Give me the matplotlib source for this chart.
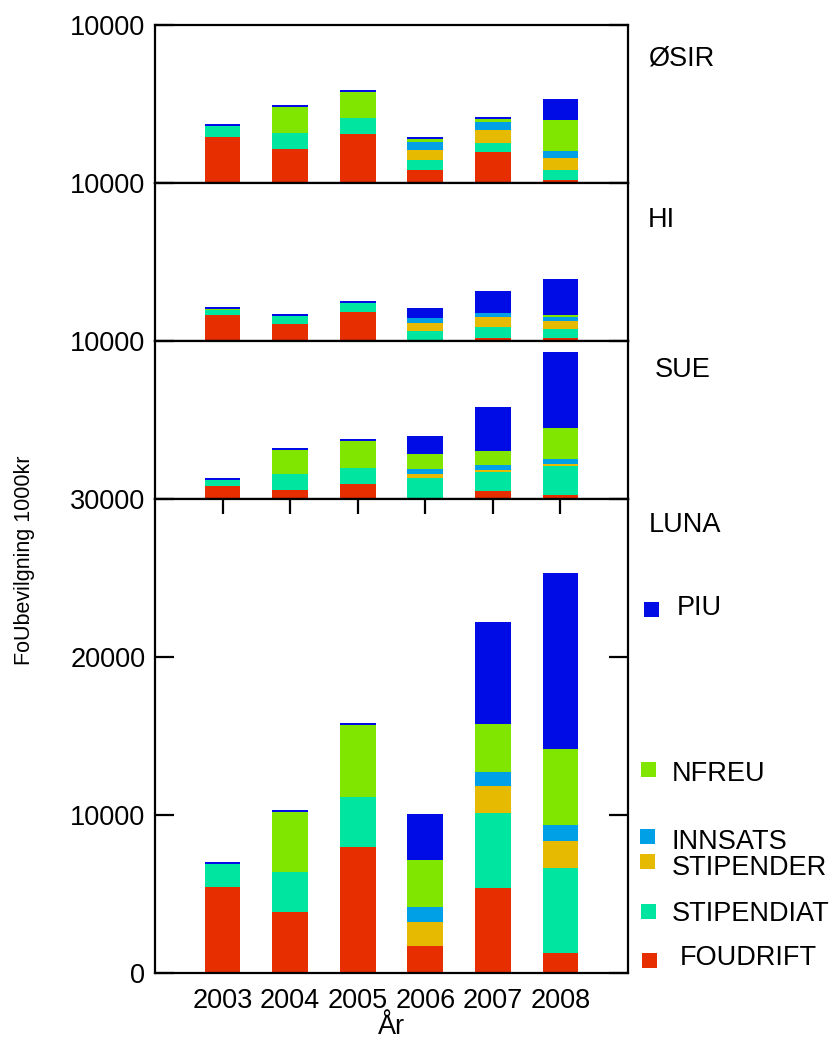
import matplotlib
matplotlib.use("Agg")
import matplotlib.pyplot as plt
from matplotlib.patches import Rectangle
import numpy as np

plt.rcParams['font.family'] = ['Liberation Sans', 'DejaVu Sans']

years = ['2003', '2004', '2005', '2006', '2007', '2008']
series = ['FOUDRIFT', 'STIPENDIAT', 'STIPENDER', 'INNSATS', 'NFREU', 'PIU']
colors = ['#E62E00', '#00E6A0', '#E6BA00', '#00A0E6', '#80E600', '#000CE6']
panels = ['ØSIR', 'HI', 'SUE', 'LUNA']

osir_foudrift = [2911, 2152, 3080, 848, 1962, 215]
osir_stipendiat = [696, 992, 1055, 633, 595, 608]
osir_stipender = [0, 0, 0, 633, 797, 785]
osir_innsats = [0, 0, 0, 481, 487, 443]
osir_nfreu = [0, 1688, 1646, 215, 209, 1962]
osir_piu = [127, 127, 127, 127, 108, 1285]

hi_foudrift = [1646, 1100, 1835, 0, 190, 215]
hi_stipendiat = [320, 481, 570, 658, 696, 527]
hi_stipender = [0, 0, 0, 506, 612, 506]
hi_innsats = [0, 0, 0, 274, 253, 274]
hi_nfreu = [80, 0, 0, 0, 0, 105]
hi_piu = [100, 105, 127, 633, 1392, 2300]

sue_foudrift = [844, 570, 928, 63, 506, 274]
sue_stipendiat = [342, 1013, 1055, 1266, 1181, 1793]
sue_stipender = [0, 0, 0, 274, 148, 127]
sue_innsats = [0, 0, 0, 295, 316, 316]
sue_nfreu = [0, 1498, 1709, 928, 907, 1962]
sue_piu = [146, 127, 127, 1139, 2743, 4848]

luna_foudrift = [5418, 3835, 7975, 1684, 5399, 1266]
luna_stipendiat = [1456, 2532, 3139, 0, 4728, 5354]
luna_stipender = [0, 0, 0, 1519, 1684, 1753]
luna_innsats = [0, 0, 0, 949, 930, 994]
luna_nfreu = [0, 3797, 4557, 3019, 2994, 4829]
luna_piu = [150, 127, 127, 2867, 6456, 11139]

panel_data = [
    [osir_foudrift, osir_stipendiat, osir_stipender, osir_innsats, osir_nfreu, osir_piu],
    [hi_foudrift, hi_stipendiat, hi_stipender, hi_innsats, hi_nfreu, hi_piu],
    [sue_foudrift, sue_stipendiat, sue_stipender, sue_innsats, sue_nfreu, sue_piu],
    [luna_foudrift, luna_stipendiat, luna_stipender, luna_innsats, luna_nfreu, luna_piu],
]

W, H = 839, 1043
fig = plt.figure(figsize=(W / 100, H / 100), dpi=100)

left_px, right_px = 155, 628
bounds_px = [(25, 183), (183, 341), (341, 499), (499, 973)]
ylims = [10000, 10000, 10000, 30000]
fs = 19.5
lw = 1.6

x = np.arange(len(years))
axes = []
for i, ((t, b), ymax) in enumerate(zip(bounds_px, ylims)):
    ax = fig.add_axes([left_px / W, 1 - b / H, (right_px - left_px) / W, (b - t) / H])
    bottom = np.zeros(len(years))
    for vals, col in zip(panel_data[i], colors):
        v = np.array(vals, dtype=float)
        ax.bar(x, v, width=0.53, bottom=bottom, color=col, linewidth=0)
        bottom += v
    ax.set_xlim(-1, 6)
    ax.set_ylim(0, ymax)
    for s in ax.spines.values():
        s.set_linewidth(lw)
    if i < 3:
        ax.set_yticks([10000])
        ax.set_yticklabels(['10000'])
        ax.set_xticks([])
    else:
        ax.set_yticks([0, 10000, 20000, 30000])
        ax.set_yticklabels(['0', '10000', '20000', '30000'])
        ax.set_xticks(x)
        ax.set_xticklabels(years)
        ax.tick_params(axis='x', which='both', top=True, bottom=False,
                       direction='in', length=11, width=lw, labelsize=fs, pad=11)
        ax.set_xlabel('År', fontsize=fs, labelpad=0)
    ax.tick_params(axis='y', which='both', left=True, right=True, direction='in',
                   length=14, width=lw, labelsize=fs, pad=7)
    axes.append(ax)

# panel labels
label_pos = [(648, 58), (648, 220), (655, 370), (649, 525)]
for name, (px, py) in zip(panels, label_pos):
    fig.text(px / W, 1 - py / H, name, fontsize=fs, ha='left', va='center')

# y label
fig.text(25 / W, 1 - 560 / H, 'FoUbevilgning 1000kr', rotation=90, ha='center', va='center',
         fontsize=15.5)

# legend (manually placed, as in original)
leg_pos = {
    'PIU': (644, 602, 677, 608),
    'NFREU': (641, 762, 672, 774),
    'INNSATS': (640, 829, 672, 842),
    'STIPENDER': (640, 854, 672, 868),
    'STIPENDIAT': (641, 904, 672, 914),
    'FOUDRIFT': (642, 953, 680, 958),
}
for name, col in zip(series, colors):
    sx, sy, tx, ty = leg_pos[name]
    fig.add_artist(Rectangle((sx / W, 1 - (sy + 15) / H), 15 / W, 15 / H,
                             transform=fig.transFigure, color=col, linewidth=0))
    fig.text(tx / W, 1 - ty / H, name, fontsize=fs, ha='left', va='center')

fig.savefig('out.png', dpi=100)
